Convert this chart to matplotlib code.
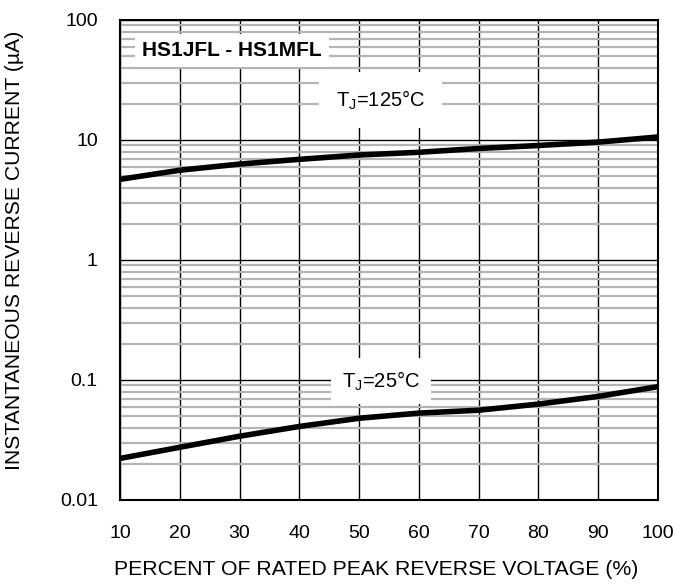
import numpy as np
import matplotlib
matplotlib.use('Agg')
import matplotlib.pyplot as plt
from matplotlib import ticker

plt.rcParams['font.family'] = ['Liberation Sans', 'DejaVu Sans']

# data
voltage_pct = [10, 20, 30, 40, 50, 60, 70, 80, 90, 100]
ir_125c = [4.7, 5.6, 6.3, 6.9, 7.5, 7.9, 8.5, 9.0, 9.6, 10.6]
ir_25c = [0.0222, 0.0275, 0.034, 0.041, 0.048, 0.053, 0.056, 0.063, 0.073, 0.088]
x_ticks = [10, 20, 30, 40, 50, 60, 70, 80, 90, 100]
y_ticks = [0.01, 0.1, 1, 10, 100]
y_tick_labels = ['0.01', '0.1', '1', '10', '100']

fig = plt.figure(figsize=(6.75, 5.84), dpi=100)
ax = fig.add_axes([120 / 675, 84 / 584, 538 / 675, 480 / 584])

ax.set_yscale('log')
ax.set_xlim(10, 100)
ax.set_ylim(0.01, 100)

ax.set_xticks(x_ticks)
ax.set_xticklabels([str(v) for v in x_ticks])
ax.set_yticks(y_ticks)
ax.set_yticklabels(y_tick_labels)
ax.yaxis.set_minor_locator(ticker.LogLocator(base=10, subs=np.arange(2, 10)))
ax.yaxis.set_minor_formatter(ticker.NullFormatter())
ax.tick_params(which='both', length=0, labelsize=14)
ax.tick_params(axis='x', pad=18)
ax.tick_params(axis='y', pad=16)

# grid: gray minors, black majors
ax.grid(True, which='minor', axis='y', color='#b4b4b4', lw=1.6)
ax.grid(True, which='major', axis='y', color='black', lw=1.0)
ax.grid(True, which='major', axis='x', color='black', lw=1.0)
ax.set_axisbelow(True)
for sp in ax.spines.values():
    sp.set_linewidth(1.5)

ax.plot(voltage_pct, ir_125c, color='black', lw=4.0, solid_capstyle='butt', zorder=4)
ax.plot(voltage_pct, ir_25c, color='black', lw=4.0, solid_capstyle='butt', zorder=4)

ax.text(13.7, 56, 'HS1JFL - HS1MFL', fontsize=15, fontweight='bold',
        va='center', ha='left',
        bbox=dict(facecolor='white', edgecolor='none', pad=5), zorder=3)
ax.text(53.6, 21.5, 'T$_\\mathregular{J}$=125°C', fontsize=14.5,
        va='center', ha='center',
        bbox=dict(facecolor='white', edgecolor='none', pad=12), zorder=3)
ax.text(53.6, 0.098, 'T$_\\mathregular{J}$=25°C', fontsize=14.5,
        va='center', ha='center',
        bbox=dict(facecolor='white', edgecolor='none', pad=8), zorder=3)

ax.set_xlabel('PERCENT OF RATED PEAK REVERSE VOLTAGE (%)', fontsize=15.3)
ax.set_ylabel('INSTANTANEOUS REVERSE CURRENT (\u00b5A)', fontsize=15.2)
# labels sit a bit off-centre in the reference
ax.xaxis.set_label_coords(0.476, -0.125)
ax.yaxis.set_label_coords(-0.178, 0.52)

fig.savefig('out.png', dpi=100)
